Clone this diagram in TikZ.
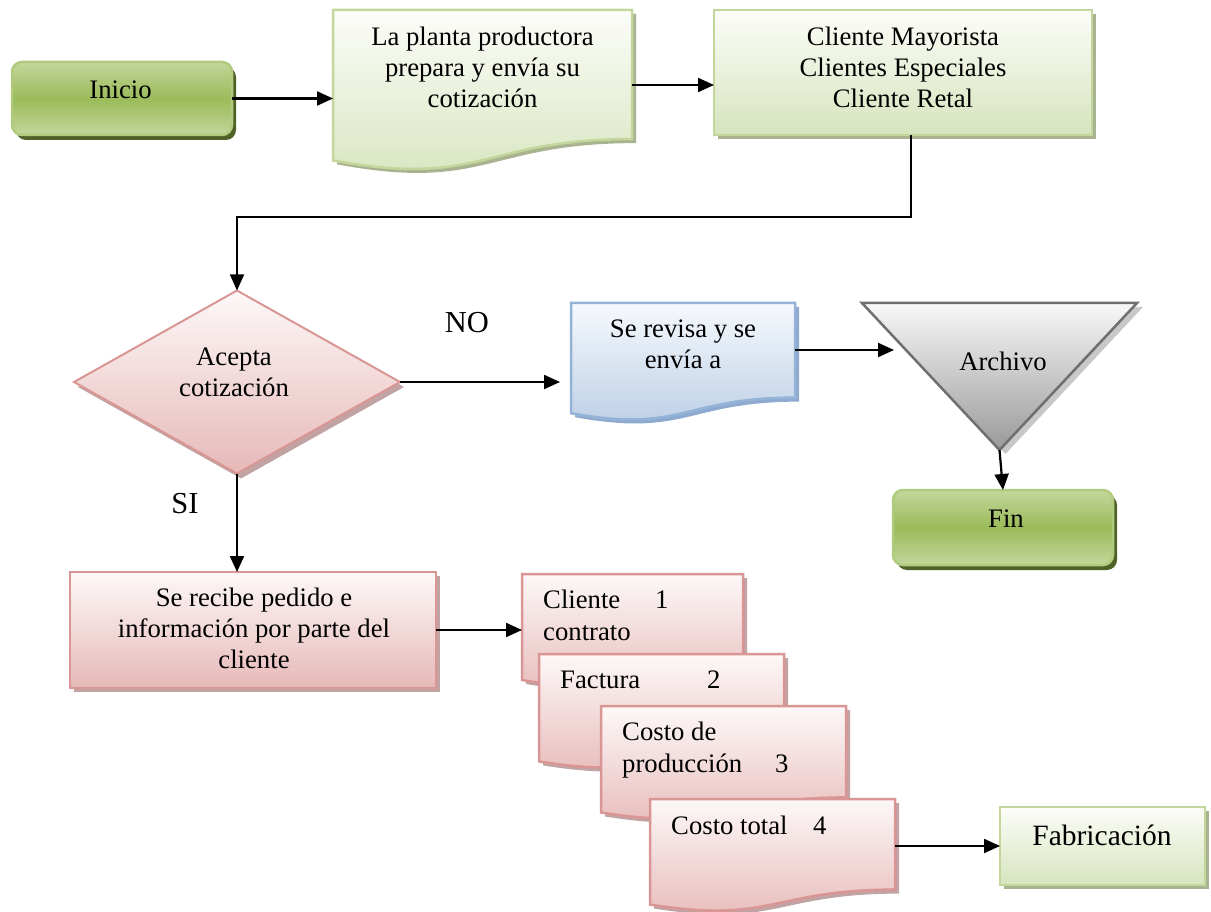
\documentclass[tikz,border=0pt]{standalone}
\usepackage{fontspec}
\setmainfont{Liberation Serif}
\usetikzlibrary{arrows.meta,calc}
\definecolor{gRlight}{HTML}{C3D69B}
\definecolor{gRmid}{HTML}{9BBB59}
\definecolor{gRborder}{HTML}{B0CB7E}
\definecolor{gRshadow}{HTML}{4F6228}
\definecolor{gDtop}{HTML}{FCFDF9}
\definecolor{gDbot}{HTML}{D7E4BD}
\definecolor{gDborder}{HTML}{C3D69B}
\definecolor{gDshadow}{HTML}{A9B38F}
\definecolor{pTop}{HTML}{FDF8F8}
\definecolor{pBot}{HTML}{E6B9B8}
\definecolor{pBorder}{HTML}{D99694}
\definecolor{pShadow}{HTML}{C2A3A3}
\definecolor{bTop}{HTML}{F6F9FC}
\definecolor{bBot}{HTML}{B9CDE5}
\definecolor{bBorder}{HTML}{95B3D7}
\definecolor{bShadow}{HTML}{8FAAD0}
\definecolor{tTop}{HTML}{F8F8F8}
\definecolor{tBot}{HTML}{999999}
\definecolor{tBorder}{HTML}{6F6F6F}
\definecolor{tShadow}{HTML}{C8C8C8}
\newcommand{\docshape}[3]{%
  \fill[#3, transform canvas={shift={(4,4)}}] (#1.north west) -- (#1.north east) -- ($(#1.north east)!0.802!(#1.south east)$) .. controls ($(#1.north)!0.802!(#1.south)$) and ($(#1.north)!1.107!(#1.south)$) .. ($(#1.north west)!0.934!(#1.south west)$) -- cycle;
  \path[#2] (#1.north west) -- (#1.north east) -- ($(#1.north east)!0.802!(#1.south east)$) .. controls ($(#1.north)!0.802!(#1.south)$) and ($(#1.north)!1.107!(#1.south)$) .. ($(#1.north west)!0.934!(#1.south west)$) -- cycle;
}
\newcommand{\rectshape}[3]{%
  \fill[#3, transform canvas={shift={(4,4)}}] (#1.north west) rectangle (#1.south east);
  \path[#2] (#1.north west) rectangle (#1.south east);
}
\tikzset{
  geo/.style={draw=none, inner sep=0pt, outer sep=0pt},
  txt/.style={font=\fontsize{26.7}{31}\selectfont, align=center, inner sep=0pt},
  txtl/.style={font=\fontsize{26.7}{31}\selectfont, inner sep=0pt, anchor=base west},
  lbl/.style={font=\fontsize{30.5}{36}\selectfont, inner sep=0pt, anchor=base},
  arr/.style={draw=black, line width=2.2pt, -{Triangle[length=16pt,width=14pt]}},
  thinarr/.style={draw=black, line width=1.6pt, -{Triangle[length=16pt,width=14pt]}},
  greenround/.style={draw=gRborder, line width=2.5pt, top color=gRlight, bottom color=gRlight, middle color=gRmid, rounded corners=10pt},
  greendoc/.style={draw=gDborder, line width=2.5pt, top color=gDtop, bottom color=gDbot},
  pinkdoc/.style={draw=pBorder, line width=2.5pt, top color=pTop, bottom color=pBot},
  bluedoc/.style={draw=bBorder, line width=2.5pt, top color=bTop, bottom color=bBot},
  graytri/.style={draw=tBorder, line width=2.5pt, top color=tTop, bottom color=tBot},
}
\begin{document}
\begin{tikzpicture}[x=1pt,y=-1pt]
\useasboundingbox (0,0) rectangle (1211,912);
% geometry holders
\node[geo, minimum width=220pt, minimum height=73pt] (inicio) at (122,98.5) {};
\node[geo, minimum width=299pt, minimum height=161pt] (doc1) at (482.5,90.5) {};
\node[geo, minimum width=378pt, minimum height=125pt] (box2) at (903,72.5) {};
\node[geo, minimum width=326pt, minimum height=183pt] (dec) at (237,382) {};
\node[geo, minimum width=224pt, minimum height=118pt] (blue) at (683,362) {};
\node[geo, minimum width=275pt, minimum height=147pt] (arch) at (999.5,376.5) {};
\node[geo, minimum width=220pt, minimum height=75pt] (fin) at (1003,527.5) {};
\node[geo, minimum width=366pt, minimum height=116pt] (recv) at (253,630) {};
\node[geo, minimum width=221pt, minimum height=113.5pt] (docA) at (632.5,630.75) {};
\node[geo, minimum width=245pt, minimum height=115pt] (docB) at (661.5,711.5) {};
\node[geo, minimum width=245pt, minimum height=114pt] (docC) at (723.5,763) {};
\node[geo, minimum width=245pt, minimum height=113pt] (docD) at (772.5,855.5) {};
\node[geo, minimum width=205pt, minimum height=78pt] (fab) at (1102.5,846) {};
% shapes
\fill[gRshadow, rounded corners=10pt, transform canvas={shift={(4,5)}}] (inicio.north west) rectangle (inicio.south east);
\path[greenround] (inicio.north west) rectangle (inicio.south east);
\docshape{doc1}{greendoc}{gDshadow}
\rectshape{box2}{greendoc}{gDshadow}
\fill[pShadow, transform canvas={shift={(4,5)}}] (dec.north) -- (dec.east) -- (dec.south) -- (dec.west) -- cycle;
\path[pinkdoc, line width=2pt] (dec.north) -- (dec.east) -- (dec.south) -- (dec.west) -- cycle;
\docshape{blue}{bluedoc}{bShadow}
\fill[tShadow, transform canvas={shift={(6,4)}}] (arch.north west) -- (arch.north east) -- (arch.south) -- cycle;
\path[graytri] (arch.north west) -- (arch.north east) -- (arch.south) -- cycle;
\fill[gRshadow, rounded corners=10pt, transform canvas={shift={(4,5)}}] (fin.north west) rectangle (fin.south east);
\path[greenround] (fin.north west) rectangle (fin.south east);
\rectshape{recv}{pinkdoc}{pShadow}
\docshape{docA}{pinkdoc}{pShadow}
\docshape{docB}{pinkdoc}{pShadow}
\docshape{docC}{pinkdoc}{pShadow}
\docshape{docD}{pinkdoc}{pShadow}
\rectshape{fab}{greendoc}{gDshadow}
% texts
\node[txt, anchor=base] (tInicio) at (120.5,99) {Inicio};
\node[txt] (tDoc1) at (482.5,70) {\strut La planta productora\\prepara y envía su\\cotización\strut};
\node[txt] (tBox2) at (903,70) {\strut Cliente Mayorista\\Clientes Especiales\\Cliente Retal\strut};
\node[txt] (tDec) at (234,375) {\strut Acepta\\cotización\strut};
\node[txt] (tBlue) at (683,347) {\strut Se revisa y se\\envía a\strut};
\node[txt, anchor=base] (tArch) at (1003,370) {Archivo};
\node[txt, anchor=base] (tFin) at (1006,527) {Fin};
\node[txt] (tRecv) at (254,631.5) {\strut Se recibe pedido e\\información por parte del\\cliente\strut};
\node[txtl] (tA1) at (543,608) {\makebox[112pt][l]{Cliente}1};
\node[txtl] (tA2) at (543,640) {contrato};
\node[txtl] (tB) at (560,688) {\makebox[147pt][l]{Factura}2};
\node[txtl] (tC1) at (622,740) {Costo de};
\node[txtl] (tC2) at (622,772) {\makebox[153pt][l]{producción}3};
\node[txtl] (tD) at (671,834) {\makebox[142pt][l]{Costo total}4};
\node[txt, anchor=base, font=\fontsize{29.5}{34}\selectfont] (tFab) at (1102,845) {Fabricación};
\node[lbl] (no) at (467,332) {NO};
\node[lbl] (si) at (185,513) {SI};
% connectors
\draw[arr] (inicio.east) -- (inicio.east -| doc1.west);
\coordinate (in2) at ($(box2.west)+(0,12.5)$);
\draw[arr] (doc1.east |- in2) -- (in2);
\draw[thinarr] ($(box2.south)+(8,0)$) -- ++(0,82) -| (dec.north);
\draw[arr] (dec.east) -- ($(blue.west |- dec.east)+(-11,0)$);
\coordinate (archin) at (894,350);
\draw[arr] (blue.east |- archin) -- (archin);
\draw[arr] (arch.south) -- (fin.north);
\draw[arr] (dec.south) -- (dec.south |- recv.north);
\draw[arr] (recv.east) -- (recv.east -| docA.west);
\draw[arr] (docD.east |- fab.west) -- (fab.west);
\end{tikzpicture}
\end{document}
